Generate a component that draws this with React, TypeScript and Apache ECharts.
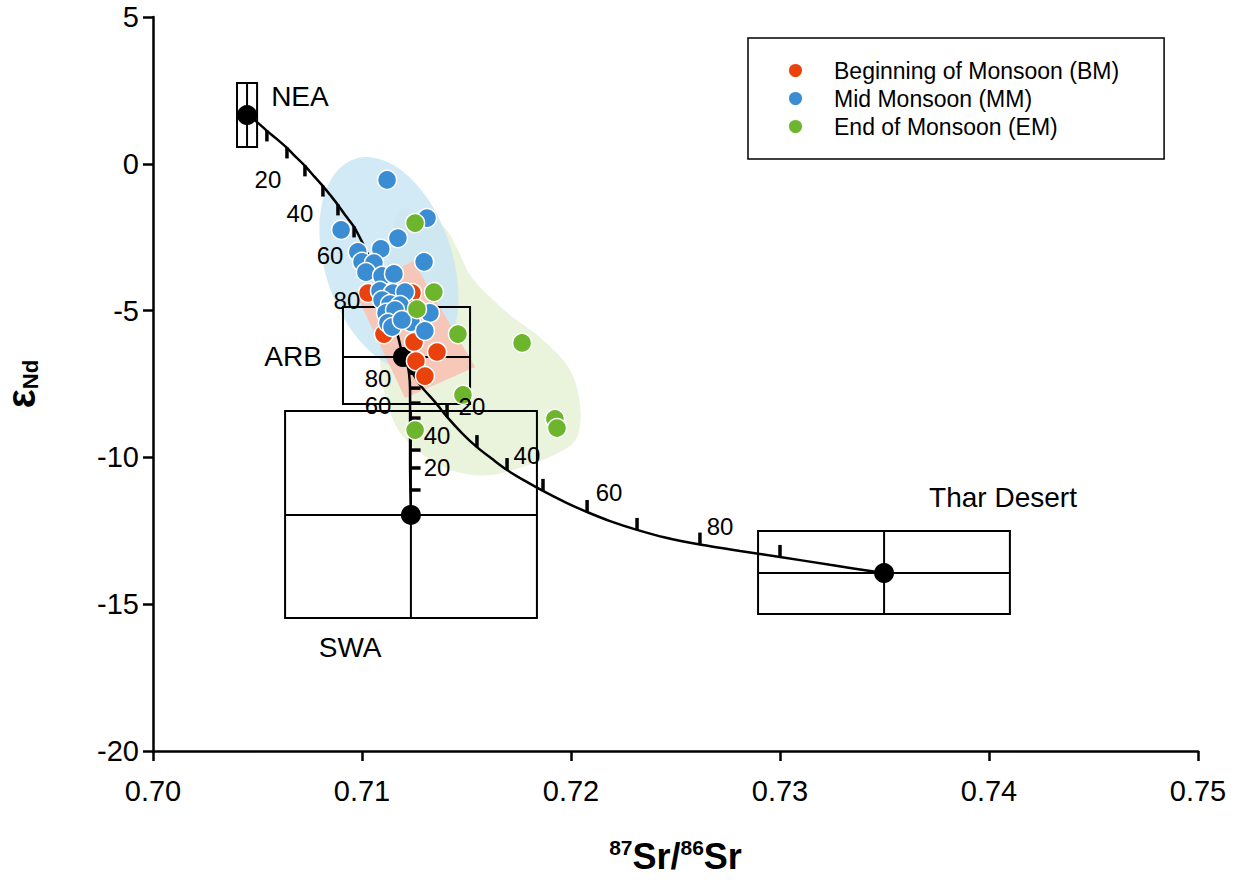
import React, { useEffect, useRef } from "react";
import * as echarts from "echarts";

const FONT = "'Liberation Sans', Arial, Helvetica, sans-serif";

// Sample points [87Sr/86Sr, eNd]
const bmPoints = [
  [0.71029, -4.4], [0.71239, -4.4], [0.71215, -4.88], [0.71105, -5.8],
  [0.71249, -6.07], [0.71359, -6.41], [0.71258, -6.72], [0.71301, -7.23],
];
const mmPoints = [
  [0.7112, -0.55], [0.71311, -1.85], [0.709, -2.25], [0.71172, -2.53],
  [0.7098, -3.0], [0.7109, -2.9], [0.71297, -3.34], [0.71, -3.34],
  [0.71057, -3.38], [0.71019, -3.69], [0.71096, -3.82], [0.71153, -3.75],
  [0.71086, -4.33], [0.71148, -4.4], [0.71206, -4.37], [0.71096, -4.64],
  [0.71134, -4.78], [0.71182, -4.81], [0.71115, -5.08], [0.71158, -4.98],
  [0.71325, -5.08], [0.71124, -5.42], [0.71144, -5.56], [0.71234, -5.39],
  [0.71191, -5.32], [0.71301, -5.69],
];
const emPoints = [
  [0.71254, -2.02], [0.71344, -4.37], [0.71263, -4.95], [0.71459, -5.8],
  [0.71766, -6.1], [0.71483, -7.87], [0.71923, -8.69], [0.71933, -9.0],
  [0.71254, -9.07],
];

// End-members
const endmemberPoints = [
  [0.7045, 1.66], [0.71196, -6.58], [0.71234, -11.96], [0.73498, -13.94],
];
// [cx, cy, xmin, xmax, ymin, ymax, horizontalLine, verticalLine]
const endmemberBoxes = [
  [0.7045, 1.66, 0.70402, 0.70498, 0.57, 2.75, 0, 1],
  [0.71196, -6.58, 0.70909, 0.71517, -8.18, -4.88, 1, 0],
  [0.71234, -11.96, 0.70632, 0.71837, -15.47, -8.42, 1, 1],
  [0.73498, -13.94, 0.72895, 0.741, -15.33, -12.51, 1, 1],
];
const endmemberNames = ["NEA", "ARB", "SWA", "Thar Desert"];
const endmemberLabelPos = [
  [0.70703, 2.28], [0.7067, -6.58], [0.70943, -16.49], [0.74067, -11.38],
];

// Mixing curves
const curveNeaArb = [
  [0.7045, 1.66], [0.70498, 1.42], [0.70545, 1.12], [0.70593, 0.84],
  [0.70641, 0.54], [0.70684, 0.23], [0.70727, -0.07], [0.7077, -0.42],
  [0.70813, -0.76], [0.70852, -1.1], [0.70885, -1.4], [0.70923, -1.78],
  [0.70962, -2.15], [0.71, -2.66], [0.71038, -3.24], [0.71077, -3.89],
  [0.71115, -4.57], [0.71148, -5.25], [0.71172, -5.87], [0.71196, -6.58],
];
const curveArbSwa = [
  [0.71196, -6.58], [0.71215, -6.82], [0.71225, -7.13], [0.7123, -7.7],
  [0.7123, -8.73], [0.7123, -10.09], [0.71234, -11.96],
];
const curveArbThar = [
  [0.71196, -6.58], [0.71278, -7.53], [0.71349, -8.11], [0.71407, -8.62],
  [0.71478, -9.17], [0.7155, -9.65], [0.71622, -10.05], [0.71694, -10.43],
  [0.7178, -10.8], [0.71866, -11.14], [0.71971, -11.52], [0.72077, -11.86],
  [0.72187, -12.17], [0.72316, -12.47], [0.7245, -12.73], [0.72617, -12.97],
  [0.72809, -13.19], [0.73, -13.39], [0.73239, -13.66], [0.73498, -13.94],
];
// 10 % mixing ticks
const ticksNeaArb = [
  [0.70545, 1.12], [0.70641, 0.54], [0.70727, -0.07], [0.70813, -0.76],
  [0.70885, -1.4], [0.70962, -2.15],
];
const ticksArbSwa = [
  [0.7123, -7.13], [0.7123, -7.64], [0.7123, -8.15], [0.7123, -8.66],
  [0.7123, -9.17], [0.7123, -9.75], [0.7123, -10.36], [0.7123, -11.11],
];
const ticksArbThar = [
  [0.71407, -8.62], [0.7155, -9.65], [0.71694, -10.43], [0.71866, -11.14],
  [0.72077, -11.86], [0.72316, -12.47], [0.72617, -12.97], [0.73, -13.39],
];
const mixLabelText = ["20", "40", "60", "80", "80", "60", "40", "20", "20", "40", "60", "80"];
const mixLabelPos = [
  [0.7055, -0.55], [0.70703, -1.68], [0.70847, -3.14], [0.70928, -4.64],
  [0.71077, -7.3], [0.71077, -8.22], [0.71359, -9.24], [0.71359, -10.33],
  [0.71526, -8.25], [0.71789, -9.95], [0.72182, -11.21], [0.72713, -12.34],
];

// Shaded fields
const mmEllipse = [0.71129, -3.4, 0.00305, 3.75, 18]; // cx, cy, rx, ry, tilt (deg)
const bmField = [
  [0.71244, -3.31], [0.71541, -6.92], [0.71206, -7.98], [0.70967, -4.37],
];
const emField = [
  [0.71182, -1.57], [0.71301, -1.74], [0.71397, -2.19], [0.71459, -2.94],
  [0.71517, -3.79], [0.71603, -4.47], [0.71708, -5.15], [0.71866, -6.0],
  [0.71995, -7.02], [0.72043, -8.22], [0.72029, -9.31], [0.71947, -9.82],
  [0.7178, -10.3], [0.71612, -10.6], [0.71455, -10.5], [0.71301, -9.95],
  [0.71191, -9.24], [0.71134, -8.45], [0.711, -7.53], [0.71086, -6.34],
  [0.7111, -4.64], [0.71134, -2.94],
];

const seriesNames = ["Beginning of Monsoon (BM)", "Mid Monsoon (MM)", "End of Monsoon (EM)"];
const seriesColors = ["#ea420d", "#3a8dd2", "#6cb52d"];

export default function App() {
  const ref = useRef<HTMLDivElement>(null);
  useEffect(() => {
    document.body.style.margin = "0";
    const chart = echarts.init(ref.current!, undefined, { renderer: "svg" });
    const polygonSeries = (pts: number[][], fill: string, z: number, smooth: number) => ({
      type: "custom",
      silent: true,
      z,
      data: [[0.72, -5]],
      renderItem: (_p: any, api: any) => ({
        type: "polygon",
        shape: { points: pts.map((p) => api.coord(p)), smooth },
        style: { fill },
      }),
    });
    const tickSeries = (pts: number[][], size: number[], offset: number[]) => ({
      type: "scatter",
      silent: true,
      z: 4,
      data: pts,
      symbol: "rect",
      symbolSize: size,
      symbolOffset: offset,
      itemStyle: { color: "#000", opacity: 1 },
    });
    const curveSeries = (pts: number[][]) => ({
      type: "line",
      silent: true,
      z: 4,
      data: pts,
      symbol: "none",
      smooth: 0.3,
      lineStyle: { color: "#000", width: 2.5 },
    });
    const labelSeries = (pos: number[][], names: string[], size: number) => ({
      type: "scatter",
      silent: true,
      z: 8,
      symbolSize: 1,
      itemStyle: { color: "rgba(0,0,0,0)", opacity: 1 },
      data: pos.map((p, i) => ({ value: p, name: names[i] })),
      label: {
        show: true,
        position: "inside",
        formatter: "{b}",
        fontSize: size,
        color: "#000",
        opacity: 1,
        fontFamily: FONT,
      },
    });

    chart.setOption({
      animation: false,
      textStyle: { fontFamily: FONT },
      grid: { left: 153, right: 39, top: 17, bottom: 134, outerBoundsMode: "none", containLabel: false },
      legend: {
        data: seriesNames,
        orient: "vertical",
        left: 748,
        top: 38,
        padding: [21, 45, 21, 39],
        itemWidth: 15,
        itemHeight: 15,
        itemGap: 5,
        icon: "circle",
        borderColor: "#000",
        borderWidth: 1.5,
        formatter: "{t|{name}}",
        textStyle: {
          fontSize: 23,
          color: "#000",
          fontFamily: FONT,
          rich: { t: { fontSize: 23, color: "#000", fontFamily: FONT, padding: [0, 0, 0, 26], lineHeight: 22 } },
        },
      },
      xAxis: {
        type: "value",
        min: 0.7,
        max: 0.75,
        interval: 0.01,
        axisLine: { show: true, onZero: false, lineStyle: { color: "#000", width: 2.5 } },
        axisTick: { show: true, length: 10, lineStyle: { color: "#000", width: 2.5 } },
        axisLabel: {
          formatter: (v: number) => v.toFixed(2),
          fontSize: 29,
          color: "#000",
          margin: 25,
        },
        splitLine: { show: false },
        name: "{s|87}{b|Sr/}{s|86}{b|Sr}",
        nameLocation: "middle",
        nameGap: 86,
        nameTextStyle: {
          rich: {
            b: { fontSize: 36, fontWeight: "bold", color: "#000", fontFamily: FONT, lineHeight: 38 },
            s: { fontSize: 21, fontWeight: "bold", color: "#000", fontFamily: FONT, verticalAlign: "top", lineHeight: 38 },
          },
        },
      },
      yAxis: {
        type: "value",
        min: -20,
        max: 5,
        interval: 5,
        axisLine: { show: true, onZero: false, lineStyle: { color: "#000", width: 2.5 } },
        axisTick: { show: true, length: 10, lineStyle: { color: "#000", width: 2.5 } },
        axisLabel: { fontSize: 29, color: "#000", margin: 14 },
        splitLine: { show: false },
        name: "{e|ε}{s|Nd}",
        nameLocation: "middle",
        nameRotate: 90,
        nameGap: 112,
        nameTextStyle: {
          rich: {
            e: { fontSize: 40, fontWeight: "bold", color: "#000", fontFamily: FONT, lineHeight: 40 },
            s: { fontSize: 22, fontWeight: "bold", color: "#000", fontFamily: FONT, verticalAlign: "bottom", lineHeight: 40 },
          },
        },
      },
      series: [
        polygonSeries(emField, "#eaf3dc", 1, 0.35),
        {
          type: "custom",
          silent: true,
          z: 1,
          data: [[0.72, -5]],
          renderItem: (_p: any, api: any) => {
            const c = api.coord([mmEllipse[0], mmEllipse[1]]);
            const s = api.size([mmEllipse[2], mmEllipse[3]]);
            return {
              type: "ellipse",
              x: c[0],
              y: c[1],
              rotation: (mmEllipse[4] * Math.PI) / 180,
              shape: { cx: 0, cy: 0, rx: s[0], ry: s[1] },
              style: { fill: "rgba(200,228,244,0.82)" },
            };
          },
        },
        polygonSeries(bmField, "rgba(248,196,180,0.95)", 1, 0),
        {
          type: "custom",
          silent: true,
          z: 3,
          data: endmemberBoxes.map((b) => [b[0], b[1]]),
          renderItem: (p: any, api: any) => {
            const b = endmemberBoxes[p.dataIndex];
            const tl = api.coord([b[2], b[5]]);
            const br = api.coord([b[3], b[4]]);
            const c = api.coord([b[0], b[1]]);
            const st = { stroke: "#000", lineWidth: 2, fill: "none" };
            const children: any[] = [
              { type: "rect", shape: { x: tl[0], y: tl[1], width: br[0] - tl[0], height: br[1] - tl[1] }, style: st },
            ];
            if (b[6]) children.push({ type: "line", shape: { x1: tl[0], y1: c[1], x2: br[0], y2: c[1] }, style: st });
            if (b[7]) children.push({ type: "line", shape: { x1: c[0], y1: tl[1], x2: c[0], y2: br[1] }, style: st });
            return { type: "group", children };
          },
        },
        curveSeries(curveNeaArb),
        curveSeries(curveArbSwa),
        curveSeries(curveArbThar),
        tickSeries(ticksNeaArb, [3.5, 11], [0, 5]),
        tickSeries(ticksArbSwa, [11, 3.5], [5, 0]),
        tickSeries(ticksArbThar, [3.5, 12], [0, -6]),
        {
          type: "scatter",
          silent: true,
          z: 5,
          data: endmemberPoints,
          symbolSize: 20,
          itemStyle: { color: "#000", opacity: 1 },
        },
        ...[bmPoints, mmPoints, emPoints].map((pts, i) => ({
          type: "scatter",
          name: seriesNames[i],
          z: 6,
          data: pts,
          symbolSize: 19,
          itemStyle: { color: seriesColors[i], opacity: 1, borderColor: "#fff", borderWidth: 1.5 },
        })),
        labelSeries(mixLabelPos, mixLabelText, 24),
        labelSeries(endmemberLabelPos, endmemberNames, 28),
      ],
    });
    return () => chart.dispose();
  }, []);
  return <div ref={ref} style={{ width: 1237, height: 885 }} />;
}
